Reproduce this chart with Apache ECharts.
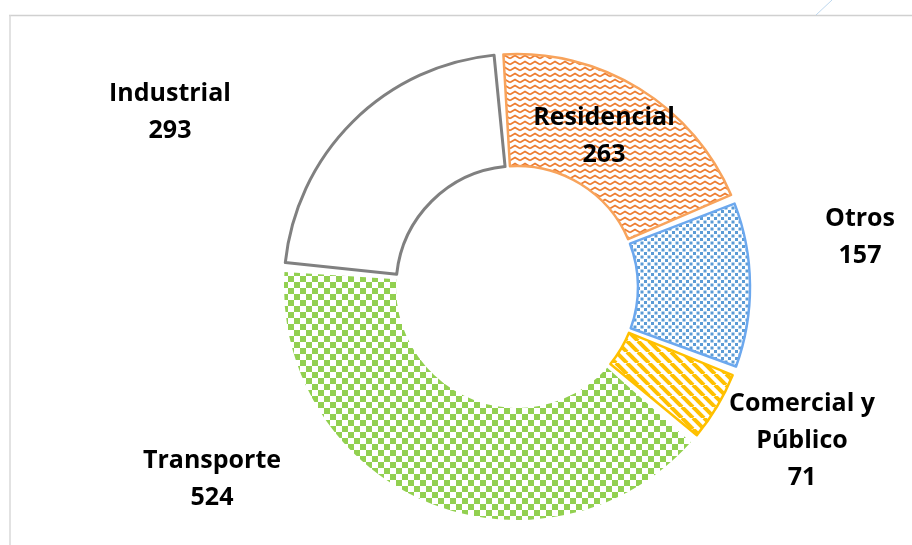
<!DOCTYPE html>
<html>
<head>
<meta charset="utf-8">
<script src="https://cdn.jsdelivr.net/npm/echarts@6/dist/echarts.min.js"></script>
<style>
  html, body { margin: 0; padding: 0; background: #fff; }
  #chart { width: 912px; height: 545px; }
</style>
</head>
<body>
<div id="chart"></div>
<script>
// data, clockwise from the top
var sectors = ['Residencial', 'Otros', 'Comercial y Público', 'Transporte', 'Industrial'];
var amounts = [263, 157, 71, 524, 293];

// where each label block sits (centre of the text block)
var labelSpots = [[604, 136], [860, 237], [802, 441], [212, 479], [170, 112]];

function tile(w, h, draw) {
    var c = document.createElement('canvas');
    c.width = w;
    c.height = h;
    var g = c.getContext('2d');
    g.fillStyle = '#ffffff';
    g.fillRect(0, 0, w, h);
    draw(g);
    return { image: c, repeat: 'repeat' };
}

var zigzag = tile(10, 6, function (g) {
    g.strokeStyle = '#ED7D31';
    g.lineWidth = 1.7;
    g.beginPath();
    g.moveTo(0, 4.5);
    g.lineTo(5, 1.5);
    g.lineTo(10, 4.5);
    g.stroke();
});
var dots = tile(7, 7, function (g) {
    g.fillStyle = '#5B9BD5';
    g.fillRect(0, 0, 3, 3);
    g.fillRect(3.5, 3.5, 3, 3);
});
var stripes = tile(11, 11, function (g) {
    g.strokeStyle = '#FFC000';
    g.lineWidth = 4;
    [-11, 0, 11].forEach(function (k) {
        g.beginPath();
        g.moveTo(k, 0);
        g.lineTo(k + 11, 11);
        g.stroke();
    });
});
var checker = tile(12, 12, function (g) {
    g.fillStyle = '#92D050';
    g.fillRect(0, 0, 6, 6);
    g.fillRect(6, 6, 6, 6);
});

var styles = [
    { color: zigzag, borderColor: '#F8A35B', borderWidth: 2.5 },
    { color: dots, borderColor: '#6CA8EE', borderWidth: 2.5 },
    { color: stripes, borderColor: '#FFC000', borderWidth: 2.5 },
    { color: checker, borderWidth: 0 },
    { color: '#ffffff', borderColor: '#808080', borderWidth: 3 }
];

var chart = echarts.init(document.getElementById('chart'));

var option = {
    animation: false,
    backgroundColor: '#ffffff',
    graphic: [
        { type: 'line', shape: { x1: 9, y1: 15.5, x2: 912, y2: 15.5 }, style: { stroke: '#D0D0D0', lineWidth: 1.5 } },
        { type: 'line', shape: { x1: 10, y1: 15, x2: 10, y2: 545 }, style: { stroke: '#D9D9D9', lineWidth: 1.5 } },
        { type: 'line', shape: { x1: 816, y1: 15, x2: 832, y2: 0 }, style: { stroke: '#BDD7EE', lineWidth: 1 } }
    ],
    series: [
        {
            type: 'pie',
            center: [517, 287],
            radius: [121, 233],
            startAngle: 94.5,
            padAngle: 2.3,
            avoidLabelOverlap: false,
            emphasis: { disabled: true },
            label: {
                show: true,
                position: 'outside',
                fontFamily: 'Open Sans',
                fontWeight: 'bold',
                fontSize: 25,
                lineHeight: 37,
                color: '#000000',
                formatter: function (p) {
                    return p.name.replace(' y ', ' y\n') + '\n' + p.value;
                }
            },
            labelLine: { show: false },
            labelLayout: function (p) {
                var s = labelSpots[p.dataIndex];
                return { x: s[0], y: s[1], align: 'center', verticalAlign: 'middle' };
            },
            data: sectors.map(function (name, i) {
                return { name: name, value: amounts[i], itemStyle: styles[i] };
            })
        }
    ]
};

chart.setOption(option);
</script>
</body>
</html>
